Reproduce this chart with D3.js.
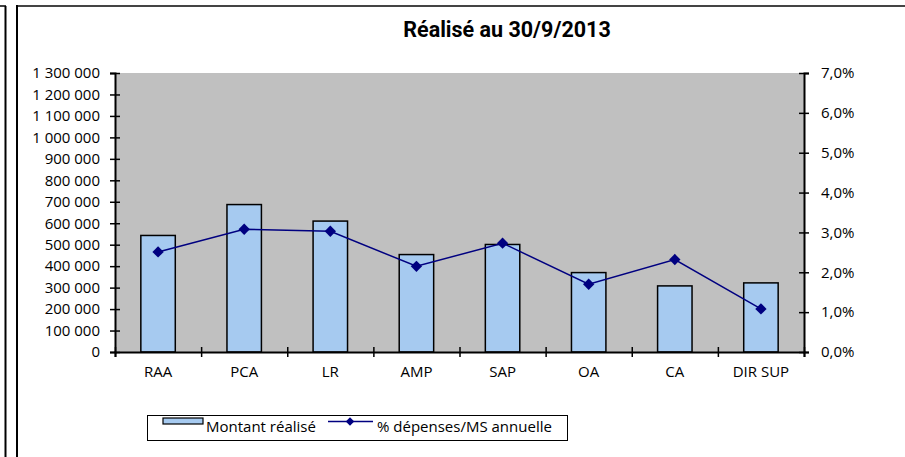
<!DOCTYPE html>
<html>
<head>
<meta charset="utf-8">
<script src="https://cdn.jsdelivr.net/npm/d3@7"></script>
<style>
  body { margin: 0; background: #fff; }
  svg text { font-family: "Open Sans", sans-serif; fill: #000; }
</style>
</head>
<body>
<svg id="chart" width="905" height="457"></svg>
<script>
// data
var categories = ["RAA", "PCA", "LR", "AMP", "SAP", "OA", "CA", "DIR SUP"];
var montant = [543000, 687000, 610000, 454000, 501000, 370000, 308000, 322000];
var pctDepenses = [2.51, 3.08, 3.03, 2.15, 2.73, 1.70, 2.32, 1.08];
var leftTicks = [0, 100000, 200000, 300000, 400000, 500000, 600000, 700000, 800000, 900000, 1000000, 1100000, 1200000, 1300000];
var rightTicks = [0, 1, 2, 3, 4, 5, 6, 7];

var svg = d3.select("#chart");
var plot = { left: 115, right: 804, top: 73, bottom: 352 };

// frames round the chart
svg.append("line").attr("x1", 0).attr("x2", 6).attr("y1", 6).attr("y2", 6)
    .attr("stroke", "#000").attr("stroke-width", 1.5);
svg.append("line").attr("x1", 5.5).attr("x2", 5.5).attr("y1", 6).attr("y2", 457)
    .attr("stroke", "#000").attr("stroke-width", 2);
svg.append("line").attr("x1", 17).attr("x2", 905).attr("y1", 6).attr("y2", 6)
    .attr("stroke", "#444").attr("stroke-width", 2);
svg.append("line").attr("x1", 17).attr("x2", 17).attr("y1", 5).attr("y2", 457)
    .attr("stroke", "#000").attr("stroke-width", 2);

// title
svg.append("text")
    .attr("x", 507).attr("y", 37)
    .attr("text-anchor", "middle")
    .style("font-family", "Roboto, sans-serif")
    .style("font-weight", "bold")
    .style("font-size", "21.5px")
    .text("Réalisé au 30/9/2013");

// scales
var x = d3.scaleBand().domain(categories)
    .range([plot.left, plot.right])
    .paddingInner(0.6).paddingOuter(0.3);
var xEdge = d3.scaleLinear().domain([0, categories.length]).range([plot.left, plot.right]);
var yLeft = d3.scaleLinear().domain([0, 1300000]).range([plot.bottom, plot.top]);
var yRight = d3.scaleLinear().domain([0, 7]).range([plot.bottom, plot.top]);

// plot background
svg.append("rect")
    .attr("x", plot.left).attr("y", plot.top)
    .attr("width", plot.right - plot.left).attr("height", plot.bottom - plot.top)
    .attr("fill", "#c0c0c0");

// bars
svg.append("g").selectAll("rect")
    .data(montant)
    .enter()
    .append("rect")
    .attr("x", function (d, i) { return x(categories[i]); })
    .attr("y", function (d) { return yLeft(d); })
    .attr("width", x.bandwidth())
    .attr("height", function (d) { return plot.bottom - yLeft(d); })
    .attr("fill", "#a6caf0")
    .attr("stroke", "#000")
    .attr("stroke-width", 1.5);

// line series
var line = d3.line()
    .x(function (d, i) { return x(categories[i]) + x.bandwidth() / 2; })
    .y(function (d) { return yRight(d); });
svg.append("path")
    .datum(pctDepenses)
    .attr("d", line)
    .attr("fill", "none")
    .attr("stroke", "#000080")
    .attr("stroke-width", 1.5);

var diamond = d3.symbol().type(d3.symbolSquare).size(64);
svg.append("g").selectAll("path")
    .data(pctDepenses)
    .enter()
    .append("path")
    .attr("d", diamond)
    .attr("transform", function (d, i) {
        return "translate(" + (x(categories[i]) + x.bandwidth() / 2) + "," + yRight(d) + ") rotate(45)";
    })
    .attr("fill", "#000080");

// axes
var fmtLeft = function (d) { return d3.format(",")(d).replace(/,/g, " "); };
var fmtRight = function (d) { return d.toFixed(1).replace(".", ",") + "%"; };

var gLeft = svg.append("g")
    .attr("transform", "translate(" + plot.left + ",0)")
    .call(d3.axisLeft(yLeft).tickValues(leftTicks).tickFormat(fmtLeft).tickSize(5).tickPadding(10));
gLeft.selectAll(".tick line").attr("x2", 5).attr("x1", -5);

var gRight = svg.append("g")
    .attr("transform", "translate(" + plot.right + ",0)")
    .call(d3.axisRight(yRight).tickValues(rightTicks).tickFormat(fmtRight).tickSize(5).tickPadding(12));
gRight.selectAll(".tick line").attr("x1", -5).attr("x2", 5);

var gBottom = svg.append("g")
    .attr("transform", "translate(0," + plot.bottom + ")")
    .call(d3.axisBottom(xEdge).tickValues(d3.range(categories.length + 1)).tickFormat("").tickSize(5));
gBottom.selectAll(".tick line").attr("y1", -5).attr("y2", 5);

svg.append("g")
    .attr("transform", "translate(0," + plot.bottom + ")")
    .call(d3.axisBottom(x).tickSize(0).tickPadding(14))
    .select(".domain").remove();

svg.selectAll(".domain").attr("stroke", "#000").attr("stroke-width", 2);
svg.selectAll(".tick line").attr("stroke", "#000").attr("stroke-width", 1.5);
svg.selectAll(".tick text").style("font-size", "15px").attr("fill", "#000");

// legend
var legend = svg.append("g");
legend.append("rect")
    .attr("x", 147.5).attr("y", 415.5).attr("width", 420).attr("height", 25)
    .attr("fill", "#fff").attr("stroke", "#000").attr("stroke-width", 1);
legend.append("rect")
    .attr("x", 163).attr("y", 418).attr("width", 40).attr("height", 6)
    .attr("fill", "#a6caf0").attr("stroke", "#000").attr("stroke-width", 1.2);
legend.append("text").attr("x", 206).attr("y", 432).style("font-size", "15px").text("Montant réalisé");
legend.append("line")
    .attr("x1", 328).attr("x2", 373).attr("y1", 421.5).attr("y2", 421.5)
    .attr("stroke", "#000080").attr("stroke-width", 1.5);
legend.append("path")
    .attr("d", d3.symbol().type(d3.symbolSquare).size(36))
    .attr("transform", "translate(350,421.5) rotate(45)")
    .attr("fill", "#000080");
legend.append("text").attr("x", 377).attr("y", 432).style("font-size", "15px").text("% dépenses/MS annuelle");
</script>
</body>
</html>
